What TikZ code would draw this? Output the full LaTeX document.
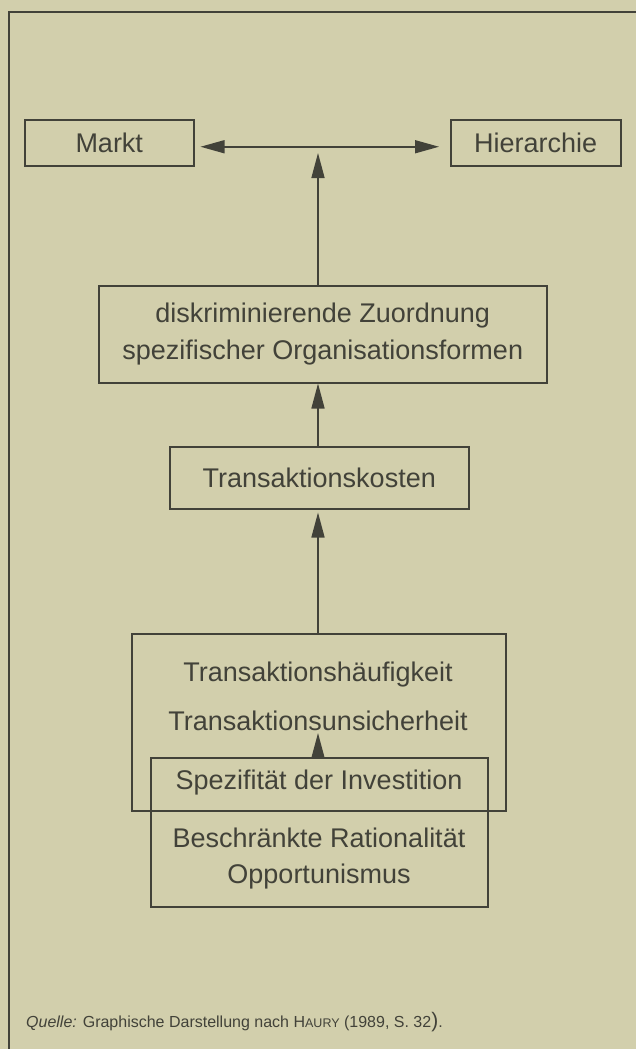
\documentclass[tikz,border=0pt]{standalone}
\usepackage{fontspec}
\setmainfont{Liberation Sans}
\usetikzlibrary{arrows.meta}
\definecolor{bg}{HTML}{D2CFAC}
\definecolor{ink}{HTML}{424239}
\begin{document}
\begin{tikzpicture}[x=1pt,y=-1pt,
  box/.style={draw=ink, line width=1.5pt, inner sep=0pt, anchor=north west, text=ink,
              font=\fontsize{27}{37}\selectfont, align=center},
  lbl/.style={text=ink, font=\fontsize{27}{37}\selectfont, inner sep=0pt, align=center},
  link/.style={draw=ink, line width=1.5pt, -{Triangle[length=25pt,width=13pt]}},
  dlink/.style={draw=ink, line width=1.5pt, {Triangle[length=24pt,width=13pt]}-{Triangle[length=24pt,width=13pt]}},
]
\fill[bg] (0,0) rectangle (636,1049);
\useasboundingbox (0,0) rectangle (636,1049);
\draw[ink, line width=1.5pt] (9,1049) -- (9,12) -- (636,12);

\node[box, minimum width=169pt, minimum height=46pt] (markt) at (24,119) {Markt};
\node[box, minimum width=170pt, minimum height=46pt] (hier) at (450,119) {Hierarchie};
\node[box, minimum width=448pt, minimum height=97pt] (diskr) at (98,285)
  {diskriminierende Zuordnung\\spezifischer Organisationsformen};
\node[box, minimum width=299pt, minimum height=62pt] (tk) at (169,446) {Transaktionskosten};
\node[box, minimum width=374pt, minimum height=177pt] (big) at (131,633) {};
\node[box, minimum width=337pt, minimum height=149pt] (spez) at (150,757) {};

\node[lbl] (th) at (318,675) {Transaktionshäufigkeit};
\node[lbl] (tu) at (318,721) {Transaktionsunsicherheit};
\node[lbl] (sp) at (319,783) {Spezifität der Investition};
\node[lbl] (br) at (319,838) {Beschränkte Rationalität};
\node[lbl] (op) at (319,877) {Opportunismus};

\coordinate (top) at (318,153);
\coordinate (tip) at (318,733);

\draw[dlink, shorten <=6pt, shorten >=11pt] ([yshift=-4pt]markt.east) -- ([yshift=-4pt]hier.west);
\draw[link] (diskr.north -| top) -- (top);
\draw[link] (tk.north -| top) -- (top |- diskr.south);
\draw[link, shorten >=3pt] (big.north -| top) -- (top |- tk.south);
\draw[link] (spez.north -| tip) -- (tip);

\node[anchor=base west, inner sep=0pt, text=ink, font=\fontsize{16}{18}\selectfont] (quelle) at (26,1027)
  {{\itshape Quelle:} Graphische Darstellung nach H{\fontsize{12.5}{14}\selectfont AURY} (1989, S. 32{\fontsize{21}{20}\selectfont )}.};
\end{tikzpicture}
\end{document}
